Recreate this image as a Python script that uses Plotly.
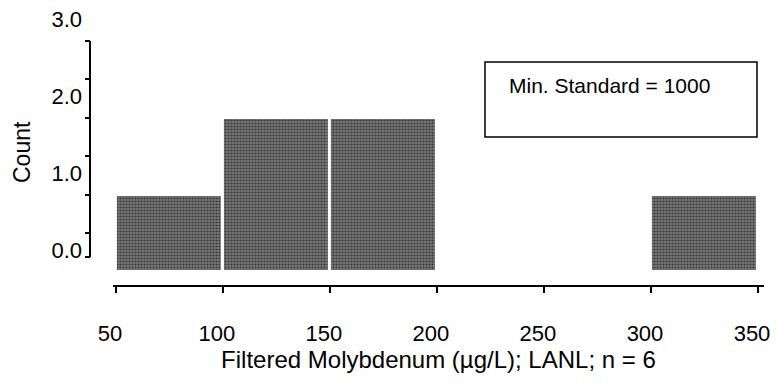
import plotly.graph_objects as go

bin_starts = [50, 100, 150, 200, 250, 300]
bin_width = 50
counts = [1, 2, 2, 0, 0, 1]
x_tick_vals = [50, 100, 150, 200, 250, 300, 350]
y_tick_vals = [0, 1, 2, 3]
y_tick_text = ["0.0", "1.0", "2.0", "3.0"]
y_mark_vals = [0.19, 0.5, 1.0, 1.5, 2.0, 2.5, 3.0]
x_title = "Filtered Molybdenum (µg/L); LANL; n = 6"
y_title = "Count"
note_text = "Min. Standard = 1000"

centers = [s + bin_width / 2 for s in bin_starts]
FONT = "Liberation Sans, Arial, sans-serif"

fig = go.Figure()
fig.add_trace(go.Bar(
    x=centers, y=counts, width=[bin_width] * len(counts),
    marker=dict(color="#6a6a6a", line=dict(color="white", width=3),
                pattern=dict(shape=".", fgcolor="#363636", bgcolor="#787878",
                             size=3, solidity=0.4, fillmode="replace")),
    xaxis="x", yaxis="y", showlegend=False, hoverinfo="skip",
))
# invisible trace carrying the tick-mark axis
fig.add_trace(go.Scatter(x=[200], y=[1], mode="markers", marker=dict(opacity=0),
                         xaxis="x", yaxis="y2", showlegend=False, hoverinfo="skip"))

fig.update_layout(
    width=777, height=386,
    margin=dict(l=90, r=13, t=41, b=101),
    paper_bgcolor="white", plot_bgcolor="white",
    font=dict(family=FONT, color="black", size=22),
    bargap=0,
    xaxis=dict(
        domain=[0.034, 1], range=[48.6, 352.8],
        tickvals=x_tick_vals, ticktext=[str(v) for v in x_tick_vals],
        ticks="outside", ticklen=6, tickwidth=1.5, tickcolor="black",
        showline=True, linecolor="black", linewidth=2,
        showgrid=False, zeroline=False, automargin=False,
        ticklabelstandoff=22, ticklabelshift=-6,
        tickfont=dict(size=22),
        title=dict(text=x_title, font=dict(size=24), standoff=0),
    ),
    yaxis=dict(
        domain=[0, 1], range=[-0.17, 3.0],
        anchor="free", position=0,
        tickvals=y_tick_vals, ticktext=y_tick_text,
        ticks="", showline=False, showgrid=False, zeroline=False, automargin=False,
        ticklabelshift=-22, ticklabelstandoff=8,
        tickfont=dict(size=22),
    ),
    yaxis2=dict(
        overlaying="y", matches="y",
        anchor="free", position=0,
        tickvals=y_mark_vals, showticklabels=False,
        ticks="outside", ticklen=5, tickwidth=1.5, tickcolor="black",
        showline=False, showgrid=False, zeroline=False, automargin=False,
    ),
    shapes=[
        dict(type="line", xref="paper", yref="y", x0=0, x1=0, y0=y_mark_vals[0], y1=y_mark_vals[-1],
             line=dict(color="black", width=2)),
        dict(type="rect", xref="paper", yref="paper",
             x0=(485 - 90) / 674, x1=(757 - 90) / 674,
             y0=(285 - 137) / 244, y1=(285 - 62) / 244,
             line=dict(color="black", width=1.5), fillcolor="rgba(0,0,0,0)"),
    ],
    annotations=[
        dict(text=note_text, xref="paper", yref="paper",
             x=(507 - 90) / 674, y=(285 - 85) / 244,
             xanchor="left", yanchor="middle", showarrow=False,
             font=dict(size=21, family=FONT, color="black")),
        dict(text=y_title, xref="paper", yref="paper",
             x=(22 - 90) / 674, y=(285 - 152) / 244, textangle=-90,
             xanchor="center", yanchor="middle", showarrow=False,
             font=dict(size=23, family=FONT, color="black")),
    ],
)

fig.write_html("out.html", config={"displayModeBar": False},
               post_script="document.body.style.margin='0';")
